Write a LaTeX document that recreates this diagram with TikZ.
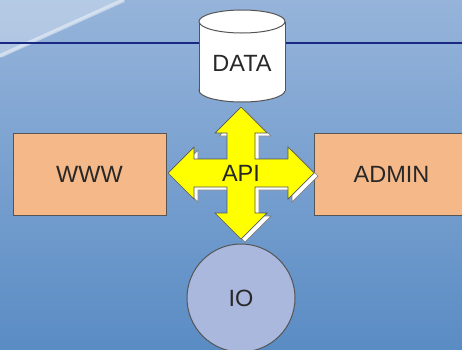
\documentclass[tikz,border=0pt]{standalone}
\usepackage{fontspec}
\setmainfont{Liberation Sans}
\usetikzlibrary{calc}
\definecolor{bgtop}{RGB}{150,180,218}
\definecolor{bgbot}{RGB}{90,140,196}
\definecolor{boxfill}{RGB}{245,184,136}
\definecolor{edge}{RGB}{85,85,85}
\definecolor{txt}{RGB}{40,40,40}
\definecolor{iofill}{RGB}{170,184,222}
\definecolor{navy}{RGB}{25,40,130}
\definecolor{arrowyellow}{RGB}{255,255,0}
\begin{document}
\begin{tikzpicture}[x=1pt,y=-1pt,
  lbl/.style={font=\fontsize{23.5}{26}\selectfont, text=txt},
  box/.style={draw=edge, line width=1pt, fill=boxfill, minimum width=153pt, minimum height=82pt, inner sep=0pt},
  cyl/.style={draw=edge, line width=1pt, fill=white},
  quadarrow/.style={draw=edge, line width=0.7pt, fill=arrowyellow, line join=miter},
  quadshadow/.style={draw=gray, line width=0.7pt, fill=white}]
\useasboundingbox (0,0) rectangle (462,349);
\clip (0,0) rectangle (462,349);
% background
\shade[top color=bgtop, bottom color=bgbot] (0,0) rectangle (462,349);
\fill[white, opacity=0.3] (0,0) -- (125,0) -- (0,57) -- cycle;
\draw[white, opacity=0.45, line width=4pt] (0,56) -- (124,0);
% horizontal rule
\draw[navy, line width=1.3pt] (0,43) -- (462,43);
% DATA cylinder
\path[cyl] (242,90.5) ellipse [x radius=43, y radius=11.5];
\fill[white] (199,21.5) rectangle (285,90.5);
\draw[edge, line width=1pt] (199,21.5) -- (199,90.5) (285,21.5) -- (285,90.5);
\path[cyl] (242,21.5) ellipse [x radius=43, y radius=11.5];
\node[lbl] (data) at (242,63) {DATA};
% boxes
\node[box, lbl] (www) at (89.5,174) {WWW};
\node[box, lbl, minimum width=155pt] (admin) at (391.5,174) {ADMIN};
% IO circle
\node[circle, draw=edge, line width=1pt, fill=iofill, minimum size=108pt, inner sep=0pt, lbl] (io) at (241,298) {IO};
% API quad arrow
\coordinate (apic) at (241,173);
\begin{scope}[shift={(apic)}]
  \draw[quadshadow, shift={(4,3)}]
    (0,-66) -- (26,-40) -- (14,-40) -- (14,-14) -- (47,-14) -- (47,-26) -- (73,0)
    -- (47,26) -- (47,14) -- (14,14) -- (14,40) -- (26,40) -- (0,66)
    -- (-26,40) -- (-14,40) -- (-14,14) -- (-47,14) -- (-47,26) -- (-73,0)
    -- (-47,-26) -- (-47,-14) -- (-14,-14) -- (-14,-40) -- (-26,-40) -- cycle;
  \draw[quadarrow]
    (0,-66) -- (26,-40) -- (14,-40) -- (14,-14) -- (47,-14) -- (47,-26) -- (73,0)
    -- (47,26) -- (47,14) -- (14,14) -- (14,40) -- (26,40) -- (0,66)
    -- (-26,40) -- (-14,40) -- (-14,14) -- (-47,14) -- (-47,26) -- (-73,0)
    -- (-47,-26) -- (-47,-14) -- (-14,-14) -- (-14,-40) -- (-26,-40) -- cycle;
\end{scope}
\node[lbl, text=black!85] (api) at (apic) {API};
\end{tikzpicture}
\end{document}
